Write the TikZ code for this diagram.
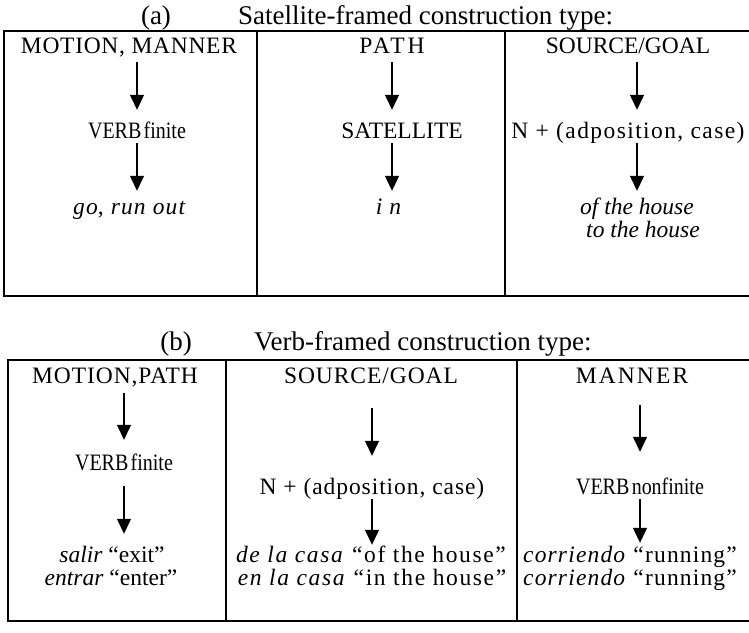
\documentclass[tikz,border=0pt]{standalone}
\usepackage{fontspec}
\setmainfont{Liberation Serif}
\usetikzlibrary{arrows.meta}
\newcommand\lsp[1]{\addfontfeature{LetterSpace=#1}}
\newcommand\cverb[1]{\scalebox{0.85}[1]{VERB\hspace{0.12em}#1}}
\begin{document}
\begin{tikzpicture}[x=1pt,y=-1pt,
  txt/.style={anchor=base,inner sep=0pt,text height=17pt,text depth=5pt,font=\fontsize{23.5}{27}\selectfont},
  ttl/.style={anchor=base,inner sep=0pt,font=\fontsize{27}{32}\selectfont},
  frame/.style={line width=2pt},
  arr/.style={line width=1.3pt,-{Triangle[width=14pt,length=15pt]}},
]
\useasboundingbox (0,0) rectangle (749,632);

% ---------- (a) ----------
\node[ttl] (ta) at (156,24) {(a)};
\node[ttl,anchor=base west] (tat) at (238,24) {Satellite-framed construction type:};
\draw[frame] (4,31) rectangle (752,296);
\draw[frame] (257,31) -- (257,296);
\draw[frame] (505,31) -- (505,296);

\node[txt] (h1) at (129,53) {\lsp{3}MOTION, MANNER};
\node[txt] (h2) at (392,53) {\lsp{12}PATH};
\node[txt] (h3) at (628,53) {SOURCE/GOAL};
\node[txt] (m1) at (137,138) {\cverb{finite}};
\node[txt] (m2) at (402,138) {SATELLITE};
\node[txt] (m3) at (628,138) {\lsp{6}N + (adposition, case)};
\node[txt] (l1) at (130,214) {\lsp{5}\textit{go}, \textit{run out}};
\node[txt] (l2) at (392,214) {\lsp{30}\textit{in}};
\node[txt] (l3) at (637,214) {\textit{of the house}};
\node[txt] (l3b) at (643,237) {\textit{to the house}};

\draw[arr,shorten <=4pt,shorten >=11pt] (h1.south -| m1) -- (m1.north);
\draw[arr,shorten >=6pt] (m1.south) -- (m1.south |- l1.north);
\draw[arr,shorten <=4pt,shorten >=11pt] (h2.south) -- (h2.south |- m2.north);
\draw[arr,shorten >=6pt] (m2.south -| l2) -- (l2.north);
\draw[arr,shorten <=4pt,shorten >=11pt] (h3.south -| l3) -- (m3.north -| l3);
\draw[arr,shorten >=6pt] (m3.south -| l3) -- (l3.north);

% ---------- (b) ----------
\node[ttl] (tb) at (176,350) {(b)};
\node[ttl,anchor=base west] (tbt) at (254,350) {Verb-framed construction type:};
\draw[frame] (8,360) rectangle (752,621);
\draw[frame] (226,360) -- (226,621);
\draw[frame] (517,360) -- (517,621);

\node[txt] (g1) at (115,383) {\lsp{4}MOTION,PATH};
\node[txt] (g2) at (371,383) {\lsp{4}SOURCE/GOAL};
\node[txt] (g3) at (632,383) {\lsp{9}MANNER};
\node[txt] (n1) at (124,470) {\cverb{finite}};
\node[txt] (n2) at (372,494) {\lsp{4}N + (adposition, case)};
\node[txt] (n3) at (640,494) {\cverb{nonfinite}};
\node[txt] (k1) at (112,562) {\textit{salir} “exit”};
\node[txt] (k1b) at (111,585) {\textit{entrar} “enter”};
\node[txt] (k2) at (371,562) {\lsp{7}\textit{de la casa} “of the house”};
\node[txt] (k2b) at (372,585) {\lsp{7}\textit{en la casa} “in the house”};
\node[txt] (k3) at (630,562) {\lsp{5}\textit{corriendo} “running”};
\node[txt] (k3b) at (630,585) {\lsp{5}\textit{corriendo} “running”};

\draw[arr,shorten <=5pt,shorten >=13pt] (g1.south -| n1) -- (n1.north);
\draw[arr,shorten <=11pt,shorten >=11pt] (n1.south) -- (n1.south |- k1.north);
\draw[arr,shorten <=20pt,shorten >=21pt] (g2.south -| n2) -- (n2.north);
\draw[arr] (n2.south) -- (n2.south |- k2.north);
\draw[arr,shorten <=17pt,shorten >=25pt] (g3.south -| n3) -- (n3.north);
\draw[arr,shorten >=2pt] (n3.south) -- (n3.south |- k3.north);
\end{tikzpicture}
\end{document}
